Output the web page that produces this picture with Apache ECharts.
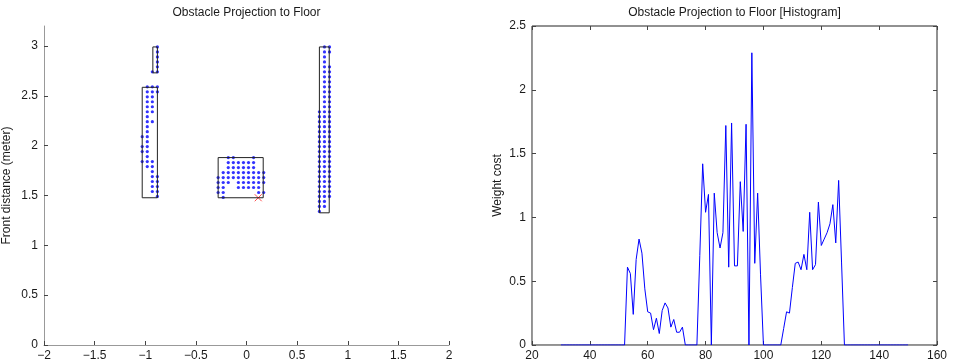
<!DOCTYPE html>
<html>
<head>
<meta charset="utf-8">
<script src="https://cdn.jsdelivr.net/npm/echarts@6/dist/echarts.min.js"></script>
<style>
  html, body { margin: 0; background: #fff; }
  #chart { width: 957px; height: 363px; }
</style>
</head>
<body>
<div id="chart"></div>
<script>
// ---- left plot: obstacle points projected on the floor ----
const leftYTicks = [0, 0.5, 1, 1.5, 2, 2.5, 3];

// cluster 1 (left pillar), rows go down from 2.99 in 0.05 steps
const c1Cols = [-1.03, -0.98, -0.93, -0.88];
const c1Rows = [2.99, 2.94, 2.89, 2.84, 2.79, 2.74, 2.69, 2.64, 2.59, 2.54, 2.49, 2.44, 2.39, 2.34, 2.29, 2.24,
  2.19, 2.14, 2.09, 2.04, 1.99, 1.94, 1.89, 1.84, 1.79, 1.74, 1.69, 1.64, 1.59, 1.54, 1.49];
const c1Mask = ['0001', '0001', '0001', '0001', '0001', '0011', '0000', '0000', '0111', '0111', '0110', '0110',
  '0110', '0110', '0100', '0110', '0100', '0100', '1100', '0100', '1100', '1100', '0100', '1110', '0110', '0010',
  '0011', '0011', '0011', '0011', '0001'];

// cluster 2 (box in the middle)
const c2Cols = [-0.28, -0.23, -0.18, -0.13, -0.08, -0.03, 0.02, 0.07, 0.12, 0.17];
const c2Rows = [1.88, 1.83, 1.78, 1.73, 1.68, 1.63, 1.58, 1.53, 1.48];
const c2Mask = ['0011000100', '0011111100', '0011111100', '0111111111', '1111111111', '1110111111',
  '1100111110', '1100000011', '0100000000'];

// cluster 3 (right pillar)
const c3Cols = [0.72, 0.77, 0.82];
const c3Rows = [2.99, 2.94, 2.89, 2.84, 2.79, 2.74, 2.69, 2.64, 2.59, 2.54, 2.49, 2.44, 2.39, 2.34, 2.29, 2.24,
  2.19, 2.14, 2.09, 2.04, 1.99, 1.94, 1.89, 1.84, 1.79, 1.74, 1.69, 1.64, 1.59, 1.54, 1.49, 1.44, 1.39, 1.34];
const c3Mask = ['011', '011', '010', '010', '011', '011', '011', '011', '011', '011', '011', '011', '011',
  '111', '111', '111', '111', '111', '111', '111', '111', '111', '111', '111', '111', '111', '111', '111',
  '111', '111', '111', '110', '110', '100'];

// bounding boxes [xmin, xmax, ymin, ymax]
const boxes = [
  [-0.925, -0.88, 2.73, 2.99],
  [-1.03, -0.88, 1.477, 2.585],
  [-0.28, 0.165, 1.477, 1.88],
  [0.72, 0.817, 1.326, 2.99]
];
const target = [0.116, 1.477];

// ---- right plot: histogram ----
const histX = [30, 31, 32, 33, 34, 35, 36, 37, 38, 39, 40, 41, 42, 43, 44, 45, 46, 47, 48, 49, 50, 51, 52,
  53, 54, 55, 56, 57, 58, 59, 60, 61, 62, 63, 64, 65, 66, 67, 68, 69, 70, 71, 72, 73, 74, 75, 76, 77,
  78, 79, 80, 81, 82, 83, 84, 85, 86, 87, 88, 89, 90, 91, 92, 93, 94, 95, 96, 97, 98, 99, 100,
  101, 102, 103, 104, 105, 106, 107, 108, 109, 110, 111, 112, 113, 114, 115, 116, 117, 118, 119, 120,
  121, 122, 123, 124, 125, 126, 127, 128, 129, 130, 131, 132, 133, 134, 135, 136, 137, 138, 139, 140,
  141, 142, 143, 144, 145, 146, 147, 148, 149, 150];
const histY = [0, 0, 0, 0, 0, 0, 0, 0, 0, 0, 0, 0, 0, 0, 0, 0, 0, 0, 0, 0, 0, 0, 0,
  0.61, 0.56, 0.24, 0.67, 0.83, 0.72, 0.44, 0.26, 0.25, 0.12, 0.21, 0.09, 0.27, 0.33, 0.29, 0.14, 0.2,
  0.1, 0.1, 0.14, 0, 0, 0, 0, 0,
  0.7, 1.42, 1.04, 1.18, 0, 1.19, 0.88, 0.76, 0.88, 1.72, 0.61, 1.74, 0.62, 0.62, 1.28, 0.89, 1.73, 0,
  2.29, 0.64, 1.19, 0.55, 0,
  0, 0, 0, 0, 0, 0,
  0.13, 0.26, 0.25, 0.45, 0.64, 0.65, 0.59, 0.71, 0.59, 1.04, 0.59, 0.63, 1.12, 0.78, 0.83, 0.88, 0.95,
  1.1, 0.8, 1.29, 0.65, 0,
  0, 0, 0, 0, 0, 0, 0, 0, 0, 0, 0, 0, 0, 0, 0, 0, 0, 0, 0, 0, 0, 0];

function points(cols, rows, mask) {
  const out = [];
  mask.forEach((m, r) => {
    for (let c = 0; c < m.length; c++) {
      if (m[c] === '1') out.push([cols[c], rows[r]]);
    }
  });
  return out;
}
function boxLine(b) {
  return [[b[0], b[2]], [b[1], b[2]], [b[1], b[3]], [b[0], b[3]], [b[0], b[2]]];
}

const font = 'Liberation Sans';
const dots = points(c1Cols, c1Rows, c1Mask)
  .concat(points(c2Cols, c2Rows, c2Mask))
  .concat(points(c3Cols, c3Rows, c3Mask));

const tick = { inside: true, length: 4, lineStyle: { color: '#444' } };
const label = { color: '#1a1a1a', fontSize: 12, fontFamily: font };
const axisGray = { show: true, onZero: false, lineStyle: { color: '#999' } };
const minus = v => String(v).replace('-', '\u2212');

const chart = echarts.init(document.getElementById('chart'));
chart.setOption({
  animation: false,
  textStyle: { fontFamily: font },
  graphic: [
    { type: 'text', x: 246.5, y: 13, style: { text: 'Obstacle Projection to Floor', font: '12px "Liberation Sans"', fill: '#1a1a1a', align: 'center', verticalAlign: 'middle' } },
    { type: 'text', x: 734.5, y: 13, style: { text: 'Obstacle Projection to Floor [Histogram]', font: '12px "Liberation Sans"', fill: '#1a1a1a', align: 'center', verticalAlign: 'middle' } }
  ],
  grid: [
    { left: 44, top: 26, width: 405, height: 319 },
    { left: 532, top: 26, width: 405, height: 319, show: true, borderColor: '#222', borderWidth: 1 }
  ],
  xAxis: [
    {
      gridIndex: 0, type: 'value', min: -2, max: 2, interval: 0.5,
      axisLine: axisGray, axisTick: tick,
      axisLabel: Object.assign({ margin: 5, formatter: minus }, label),
      splitLine: { show: false }
    },
    {
      gridIndex: 1, type: 'value', min: 20, max: 160, interval: 20,
      axisLine: axisGray, axisTick: tick,
      axisLabel: Object.assign({ margin: 5 }, label),
      splitLine: { show: false }
    },
    {
      gridIndex: 1, type: 'value', position: 'top', min: 20, max: 160, interval: 20,
      axisLine: { show: false, onZero: false }, axisTick: tick, axisLabel: { show: false },
      splitLine: { show: false }
    }
  ],
  yAxis: [
    {
      gridIndex: 0, type: 'value', min: 0, max: 3.2,
      name: 'Front distance (meter)', nameLocation: 'middle', nameGap: 31,
      nameTextStyle: { color: '#1a1a1a', fontSize: 12, fontFamily: font },
      axisLine: axisGray,
      axisTick: Object.assign({ customValues: leftYTicks }, tick),
      axisLabel: Object.assign({ margin: 6, customValues: leftYTicks }, label),
      splitLine: { show: false }
    },
    {
      gridIndex: 1, type: 'value', min: 0, max: 2.5, interval: 0.5,
      name: 'Weight cost', nameLocation: 'middle', nameGap: 28,
      nameTextStyle: { color: '#1a1a1a', fontSize: 12, fontFamily: font },
      axisLine: axisGray, axisTick: tick,
      axisLabel: Object.assign({ margin: 6 }, label),
      splitLine: { show: false }
    },
    {
      gridIndex: 1, type: 'value', position: 'right', min: 0, max: 2.5, interval: 0.5,
      axisLine: { show: false, onZero: false }, axisTick: tick, axisLabel: { show: false },
      splitLine: { show: false }
    }
  ],
  series: [
    ...boxes.map(b => ({
      type: 'line', xAxisIndex: 0, yAxisIndex: 0, data: boxLine(b),
      symbol: 'none', lineStyle: { color: '#222', width: 1 }, silent: true
    })),
    {
      type: 'scatter', xAxisIndex: 0, yAxisIndex: 0, data: dots,
      symbol: 'circle', symbolSize: 3.2, itemStyle: { color: '#0000ff' }
    },
    {
      type: 'scatter', xAxisIndex: 0, yAxisIndex: 0, data: [target],
      symbol: 'path://M0,0L10,10M10,0L0,10', symbolSize: 7,
      itemStyle: { color: 'none', borderColor: '#ff2020', borderWidth: 1 }
    },
    {
      type: 'line', xAxisIndex: 1, yAxisIndex: 1,
      data: histX.map((x, i) => [x, histY[i]]),
      symbol: 'none', lineStyle: { color: '#0000ff', width: 1 }
    }
  ]
});
</script>
</body>
</html>
